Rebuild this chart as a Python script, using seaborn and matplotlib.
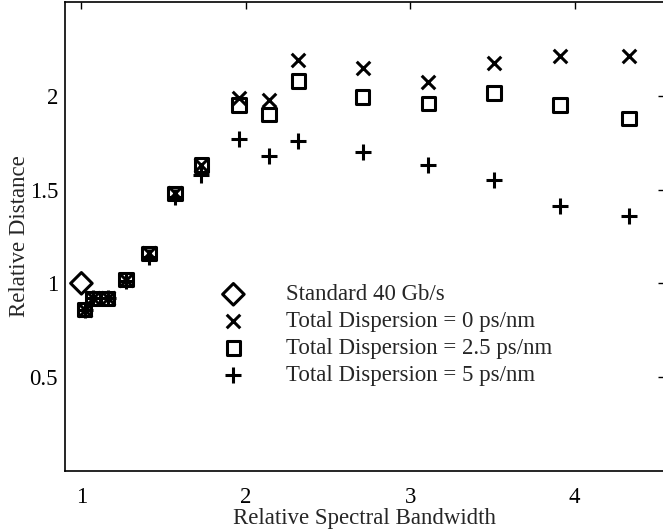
import matplotlib
matplotlib.use("Agg")
import matplotlib.pyplot as plt
import seaborn as sns

# --------- Datos ---------

std_x = [1.0]
std_y = [1.0]

bw = [1.02, 1.07, 1.16, 1.27, 1.41, 1.57, 1.73, 1.96, 2.14, 2.32, 2.71, 3.11, 3.51, 3.91, 4.33]

disp0 = [0.86, 0.92, 0.92, 1.02, 1.16, 1.48, 1.63, 1.99, 1.98, 2.19, 2.15, 2.075, 2.175, 2.21, 2.21]
disp25 = [0.86, 0.92, 0.92, 1.02, 1.16, 1.48, 1.63, 1.95, 1.90, 2.08, 1.995, 1.96, 2.015, 1.95, 1.88]
disp5 = [0.86, 0.92, 0.92, 1.01, 1.14, 1.46, 1.58, 1.77, 1.68, 1.76, 1.70, 1.63, 1.55, 1.41, 1.36]

labels = ["Standard 40 Gb/s",
          "Total Dispersion = 0 ps/nm",
          "Total Dispersion = 2.5 ps/nm",
          "Total Dispersion = 5 ps/nm"]

xticks = [1, 2, 3, 4]
yticks = [0.5, 1, 1.5, 2]

# --------- Figura ---------

sns.set_style("white")
plt.rcParams["font.family"] = ["Liberation Serif", "DejaVu Serif"]

fig = plt.figure(figsize=(6.63, 5.29), dpi=100)
ax = fig.add_axes([0.098, 0.11, 0.905, 0.886])

sns.scatterplot(x=std_x, y=std_y, marker="D", s=120, facecolor="none",
                edgecolor="black", linewidth=2.2, label=labels[0], ax=ax)
sns.scatterplot(x=bw, y=disp0, marker="x", s=95, color="black",
                linewidth=2.2, label=labels[1], ax=ax)
sns.scatterplot(x=bw, y=disp25, marker="s", s=95, facecolor="none",
                edgecolor="black", linewidth=2.2, label=labels[2], ax=ax)
sns.scatterplot(x=bw, y=disp5, marker="+", s=140, color="black",
                linewidth=2.2, label=labels[3], ax=ax)

ax.set_xlim(0.9, 4.55)
ax.set_ylim(0, 2.5)
ax.set_xticks(xticks)
ax.set_yticks(yticks)
ax.set_xticklabels([str(t) for t in xticks])
ax.set_yticklabels(["0.5", "1", "1.5", "2"])
ax.tick_params(direction="in", length=5, width=1, top=True, right=True,
               labelsize=16.5, colors="black")
ax.tick_params(axis="x", pad=12)
ax.tick_params(axis="y", pad=5)
for sp in ax.spines.values():
    sp.set_visible(True)
    sp.set_color("black")
    sp.set_linewidth(1.2)

ax.set_xlabel("Relative Spectral Bandwidth", fontsize=16.5, labelpad=0)
ax.set_ylabel("Relative Distance", fontsize=16.5, labelpad=0)

ax.legend(loc="upper left", bbox_to_anchor=(0.2425, 0.398), frameon=False,
          fontsize=16.5, handletextpad=1.3, labelspacing=0.25, borderpad=0,
          borderaxespad=0)

fig.savefig("out.png", dpi=100)
